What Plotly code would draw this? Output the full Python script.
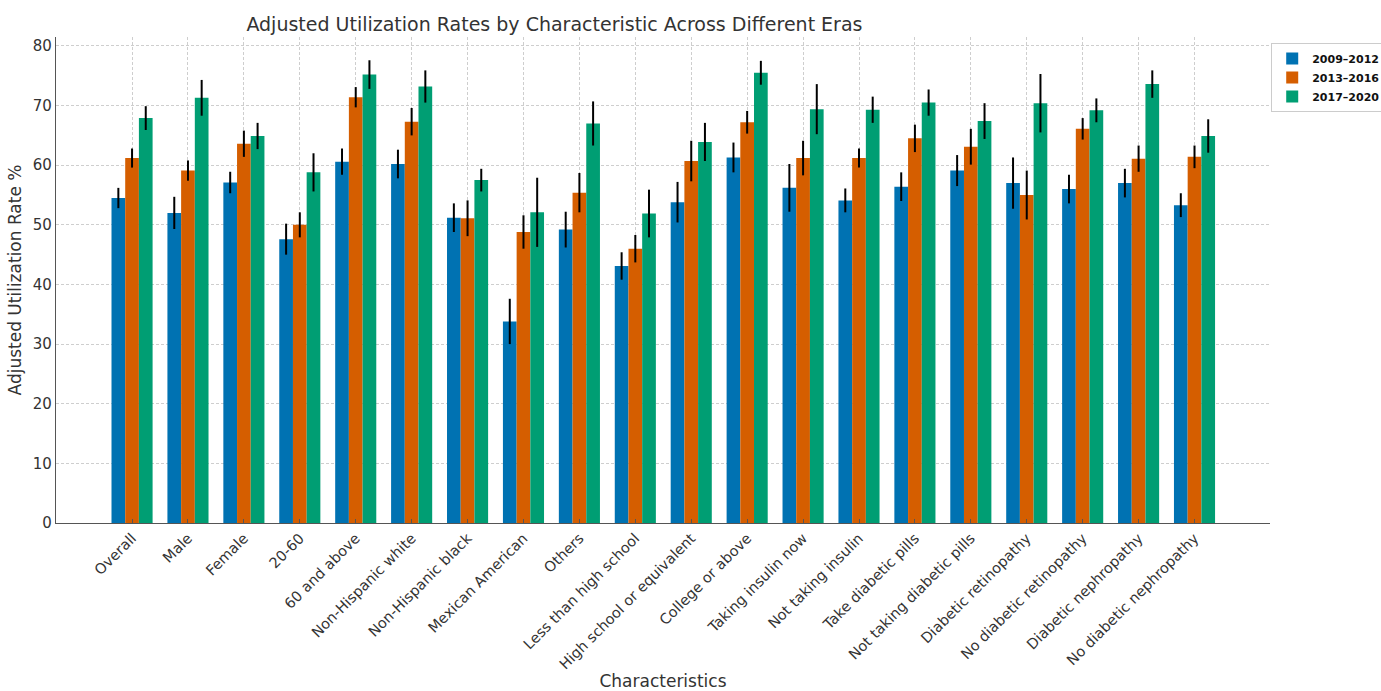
import plotly.graph_objects as go

categories = [
    "Overall", "Male", "Female", "20-60", "60 and above", "Non-Hispanic white",
    "Non-Hispanic black", "Mexican American", "Others", "Less than high school",
    "High school or equivalent", "College or above", "Taking insulin now",
    "Not taking insulin", "Take diabetic pills", "Not taking diabetic pills",
    "Diabetic retinopathy", "No diabetic retinopathy", "Diabetic nephropathy",
    "No diabetic nephropathy",
]

era_names = ["2009\u20132012", "2013\u20132016", "2017\u20132020"]

rates_2009_2012 = [54.5, 52.0, 57.1, 47.6, 60.6, 60.2, 51.2, 33.8, 49.2, 43.1,
                   53.8, 61.3, 56.2, 54.1, 56.4, 59.1, 57.0, 56.0, 57.0, 53.3]
rates_2013_2016 = [61.2, 59.1, 63.6, 50.0, 71.4, 67.3, 51.1, 48.8, 55.4, 46.0,
                   60.7, 67.2, 61.2, 61.2, 64.5, 63.1, 55.0, 66.1, 61.1, 61.4]
rates_2017_2020 = [67.9, 71.3, 64.9, 58.8, 75.2, 73.2, 57.5, 52.1, 67.0, 51.9,
                   63.9, 75.5, 69.4, 69.3, 70.5, 67.4, 70.4, 69.2, 73.6, 64.9]

err_2009_2012 = [1.7, 2.7, 1.8, 2.6, 2.2, 2.4, 2.4, 3.8, 3.0, 2.3,
                 3.4, 2.5, 4.0, 2.0, 2.4, 2.6, 4.3, 2.4, 2.4, 2.0]
err_2013_2016 = [1.6, 1.7, 2.2, 2.1, 1.7, 2.3, 3.0, 2.8, 3.3, 2.3,
                 3.4, 1.9, 2.9, 1.6, 2.3, 3.0, 4.1, 1.8, 2.2, 1.9]
err_2017_2020 = [2.0, 3.0, 2.2, 3.2, 2.4, 2.7, 1.9, 5.8, 3.7, 4.0,
                 3.2, 2.0, 4.2, 2.2, 2.2, 3.0, 4.9, 2.0, 2.3, 2.8]

y_ticks = [0, 10, 20, 30, 40, 50, 60, 70, 80]

series = [
    (era_names[0], rates_2009_2012, err_2009_2012, "#0072B2"),
    (era_names[1], rates_2013_2016, err_2013_2016, "#D55E00"),
    (era_names[2], rates_2017_2020, err_2017_2020, "#009E73"),
]

fig = go.Figure()
for name, vals, errs, color in series:
    fig.add_trace(go.Bar(
        name=name,
        x=categories,
        y=vals,
        marker=dict(color=color, line=dict(width=0)),
        error_y=dict(type="data", array=errs, visible=True,
                     color="#000000", thickness=2, width=0),
    ))

text_color = "#333333"
grid = dict(showgrid=True, gridcolor="rgba(190,190,190,0.75)", gridwidth=0.8,
            griddash="3px,2px")

fig.update_layout(
    barmode="group",
    bargap=0.265,
    bargroupgap=0,
    width=1381,
    height=691,
    margin=dict(l=56, r=111, t=37, b=168, autoexpand=False),
    paper_bgcolor="white",
    plot_bgcolor="white",
    font=dict(family="DejaVu Sans", color=text_color, size=14),
    title=dict(
        text="Adjusted Utilization Rates by Characteristic Across Different Eras",
        x=567 / 1381, xanchor="center", xref="paper",
        y=1 - 24 / 691, yanchor="middle",
        font=dict(size=19, color=text_color),
    ),
    legend=dict(
        x=1.001, xanchor="left", y=0.9877, yanchor="top",
        bgcolor="white", bordercolor="#cccccc", borderwidth=1,
        font=dict(family="DejaVu Sans", size=11, color="#111111", weight="bold"),
        traceorder="normal", tracegroupgap=0,
    ),
    showlegend=True,
)

fig.update_xaxes(
    title=dict(text="Characteristics", font=dict(size=17, color=text_color), standoff=0),
    tickangle=-45,
    range=[-1.36, 20.35],
    showline=True, linecolor="#555555", linewidth=1.2,
    ticks="inside", ticklen=4, tickcolor="#555555",
    layer="above traces",
    tickfont=dict(size=14.5, color=text_color),
    **grid,
)
fig.update_yaxes(
    title=dict(text="Adjusted Utilization Rate %", font=dict(size=17, color=text_color), standoff=6),
    range=[0, 81.5],
    tickvals=y_ticks,
    showline=True, linecolor="#555555", linewidth=1.2,
    ticks="", layer="above traces",
    tickfont=dict(size=15, color=text_color),
    zeroline=False,
    **grid,
)

fig.write_html("out.html")
